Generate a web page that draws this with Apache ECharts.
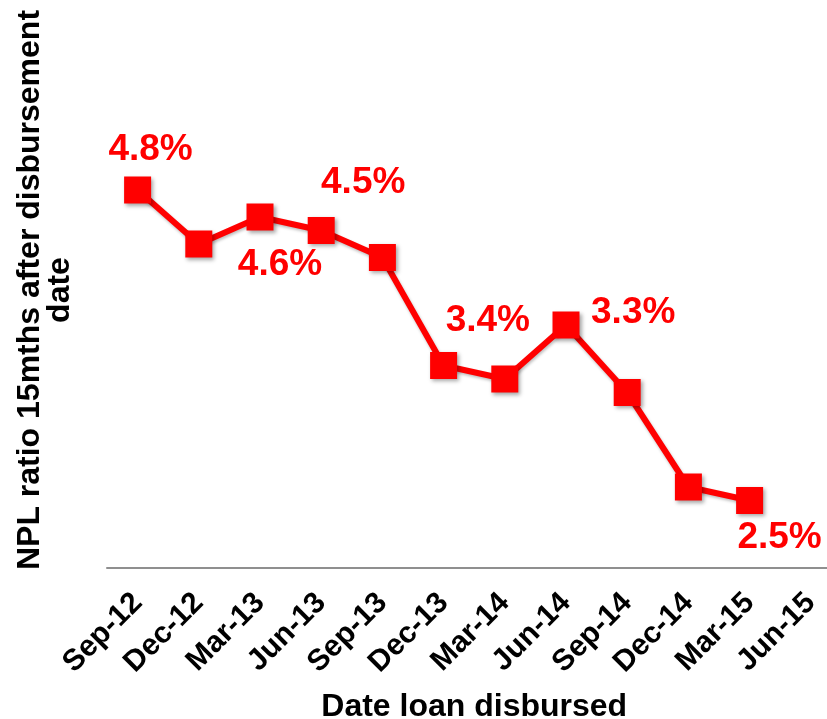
<!DOCTYPE html>
<html>
<head>
<meta charset="utf-8">
<script src="https://cdn.jsdelivr.net/npm/echarts@6/dist/echarts.min.js"></script>
<style>
  html, body { margin: 0; padding: 0; background: #fff; overflow: hidden; }
  #chart { width: 827px; height: 719px; }
</style>
</head>
<body>
<div id="chart"></div>
<script>
// Quarter in which the loans were disbursed
const categories = ['Sep-12', 'Dec-12', 'Mar-13', 'Jun-13', 'Sep-13', 'Dec-13',
                    'Mar-14', 'Jun-14', 'Sep-14', 'Dec-14', 'Mar-15', 'Jun-15'];
// NPL ratio (%) 15 months after disbursement; Jun-15 not yet observed
const nplRatio = [4.8, 4.4, 4.6, 4.5, 4.3, 3.5, 3.4, 3.8, 3.3, 2.6, 2.5, null];
// Quarters whose value is printed next to the marker
const labelledQuarters = ['Sep-12', 'Mar-13', 'Jun-13', 'Mar-14', 'Sep-14', 'Mar-15'];

const yTitle = 'NPL ratio 15mths after disbursement\ndate';
const xTitle = 'Date loan disbursed';

// Where each printed value sits relative to its marker (px)
const labelOffset = {
  'Sep-12': [13, -40],
  'Mar-13': [20, 48],
  'Jun-13': [42, -48],
  'Mar-14': [-17, -58],
  'Sep-14': [6, -80],
  'Mar-15': [30, 37]
};

const FONT = '"Liberation Sans", Arial, Helvetica, sans-serif';
const RED = '#ff0000';

const seriesData = nplRatio.map((v, i) => {
  const cat = categories[i];
  const item = { value: v };
  if (labelledQuarters.includes(cat)) {
    item.label = {
      show: true,
      position: 'inside',
      offset: labelOffset[cat],
      align: 'center',
      verticalAlign: 'middle',
      formatter: p => p.value.toFixed(1) + '%',
      color: RED,
      fontFamily: FONT,
      fontWeight: 'bold',
      fontSize: 37
    };
  }
  return item;
});

const chart = echarts.init(document.getElementById('chart'), null, { renderer: 'canvas' });
chart.setOption({
  animation: false,
  backgroundColor: '#ffffff',
  // plot area deliberately runs past the right edge (last category is cut off)
  grid: { left: 107, top: 163, width: 734.4, height: 405, containLabel: false, outerBoundsMode: 'none' },
  xAxis: {
    type: 'category',
    data: categories,
    boundaryGap: true,
    axisLine: { show: true, lineStyle: { color: '#8f8f8f', width: 2 } },
    axisTick: { show: false },
    axisLabel: {
      rotate: 45,
      margin: 30,
      interval: 0,
      color: '#000',
      fontFamily: FONT,
      fontWeight: 'bold',
      fontSize: 30
    },
    name: xTitle,
    nameLocation: 'middle',
    nameGap: 123,
    nameTextStyle: { color: '#000', fontFamily: FONT, fontWeight: 'bold', fontSize: 32 }
  },
  yAxis: {
    type: 'value',
    min: 2,
    max: 5,
    axisLine: { show: false },
    axisTick: { show: false },
    axisLabel: { show: false },
    splitLine: { show: false }
  },
  graphic: [{
    type: 'text',
    x: 45,
    y: 290,
    rotation: Math.PI / 2,
    style: {
      text: yTitle,
      textAlign: 'center',
      textVerticalAlign: 'middle',
      fill: '#000',
      font: 'bold 32px ' + FONT,
      lineHeight: 30
    }
  }],
  series: [{
    type: 'line',
    data: seriesData,
    connectNulls: false,
    symbol: 'rect',
    symbolSize: 27,
    lineStyle: {
      color: RED, width: 6,
      shadowColor: 'rgba(0,0,0,0.25)', shadowBlur: 3, shadowOffsetX: 1, shadowOffsetY: 2
    },
    itemStyle: {
      color: RED, opacity: 1,
      shadowColor: 'rgba(0,0,0,0.35)', shadowBlur: 4, shadowOffsetX: 2, shadowOffsetY: 2
    },
    label: { show: false },
    emphasis: { disabled: true }
  }]
});
</script>
</body>
</html>
